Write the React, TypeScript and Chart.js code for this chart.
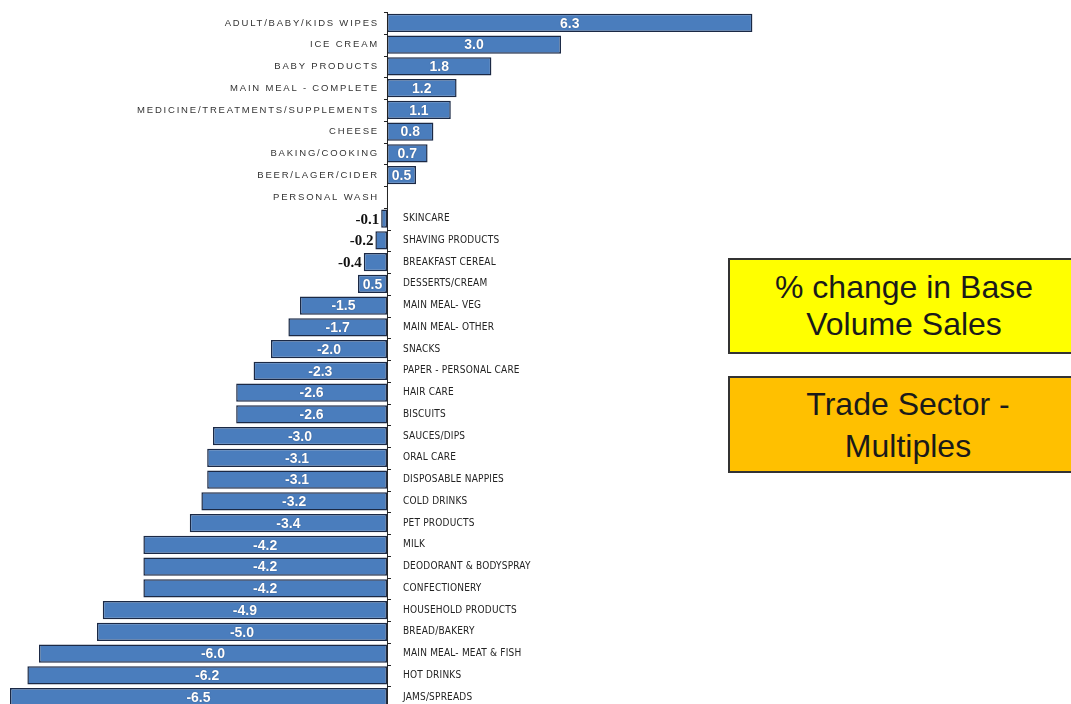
import React, { useEffect, useRef } from "react";
import { Chart, registerables } from "chart.js";

Chart.register(...registerables);

const categories: string[] = [
  "ADULT/BABY/KIDS WIPES",
  "ICE CREAM",
  "BABY PRODUCTS",
  "MAIN MEAL - COMPLETE",
  "MEDICINE/TREATMENTS/SUPPLEMENTS",
  "CHEESE",
  "BAKING/COOKING",
  "BEER/LAGER/CIDER",
  "PERSONAL WASH",
  "SKINCARE",
  "SHAVING PRODUCTS",
  "BREAKFAST CEREAL",
  "DESSERTS/CREAM",
  "MAIN MEAL- VEG",
  "MAIN MEAL- OTHER",
  "SNACKS",
  "PAPER - PERSONAL CARE",
  "HAIR CARE",
  "BISCUITS",
  "SAUCES/DIPS",
  "ORAL CARE",
  "DISPOSABLE NAPPIES",
  "COLD DRINKS",
  "PET PRODUCTS",
  "MILK",
  "DEODORANT & BODYSPRAY",
  "CONFECTIONERY",
  "HOUSEHOLD PRODUCTS",
  "BREAD/BAKERY",
  "MAIN MEAL- MEAT & FISH",
  "HOT DRINKS",
  "JAMS/SPREADS",
];

const values: number[] = [
  6.3, 3.0, 1.8, 1.2, 1.1, 0.8, 0.7, 0.5, 0, -0.1, -0.2, -0.4, -0.5, -1.5,
  -1.7, -2.0, -2.3, -2.6, -2.6, -3.0, -3.1, -3.1, -3.2, -3.4, -4.2, -4.2,
  -4.2, -4.9, -5.0, -6.0, -6.2, -6.5,
];

// value labels as printed on the picture
const valueLabels: string[] = [
  "6.3", "3.0", "1.8", "1.2", "1.1", "0.8", "0.7", "0.5", "", "-0.1", "-0.2",
  "-0.4", "0.5", "-1.5", "-1.7", "-2.0", "-2.3", "-2.6", "-2.6", "-3.0",
  "-3.1", "-3.1", "-3.2", "-3.4", "-4.2", "-4.2", "-4.2", "-4.9", "-5.0",
  "-6.0", "-6.2", "-6.5",
];

const titleLines: string[] = ["% change in Base", "Volume Sales"];
const sectorLines: string[] = ["Trade Sector -", "Multiples"];

const labelPlugin = {
  id: "customLabels",
  afterDatasetsDraw(chart: any) {
    const ctx = chart.ctx as CanvasRenderingContext2D;
    const xs = chart.scales.x;
    const ys = chart.scales.y;
    const area = chart.chartArea;
    const x0 = xs.getPixelForValue(0);
    const n = values.length;
    const rowH = (area.bottom - area.top) / n;
    ctx.save();
    // axis line
    ctx.strokeStyle = "#222";
    ctx.lineWidth = 1;
    ctx.beginPath();
    ctx.moveTo(x0 + 0.5, area.top);
    ctx.lineTo(x0 + 0.5, area.bottom);
    ctx.stroke();
    for (let i = 0; i <= n; i++) {
      const yb = Math.round(area.top + i * rowH) + 0.5;
      ctx.beginPath();
      if (i <= 9) {
        ctx.moveTo(x0 - 3, yb);
        ctx.lineTo(x0 + 0.5, yb);
      } else {
        ctx.moveTo(x0, yb);
        ctx.lineTo(x0 + 4, yb);
      }
      ctx.stroke();
    }
    for (let i = 0; i < n; i++) {
      const v = values[i];
      const y = ys.getPixelForValue(i);
      const xv = xs.getPixelForValue(v);
      // category label
      ctx.textBaseline = "middle";
      if (v >= 0) {
        ctx.font = "9.5px 'Liberation Sans', Arial, sans-serif";
        (ctx as any).letterSpacing = "1.8px";
        ctx.fillStyle = "#333";
        ctx.textAlign = "right";
        ctx.fillText(categories[i], x0 - 8, y);
      } else {
        ctx.font = "10px 'DejaVu Sans Condensed', 'DejaVu Sans', sans-serif";
        (ctx as any).letterSpacing = "0.2px";
        ctx.fillStyle = "#222";
        ctx.textAlign = "left";
        ctx.fillText(categories[i], x0 + 16, y);
      }
      (ctx as any).letterSpacing = "0px";
      const t = valueLabels[i];
      if (!t) continue;
      if (v < 0 && v > -0.45) {
        ctx.font = "bold 15px 'Liberation Serif', 'Times New Roman', serif";
        ctx.fillStyle = "#111";
        ctx.textAlign = "right";
        ctx.fillText(t, xv - 2, y + 1);
      } else {
        ctx.font = "bold 14px 'Liberation Sans', Arial, sans-serif";
        ctx.fillStyle = "#fff";
        ctx.textAlign = "center";
        ctx.shadowColor = "rgba(20,30,60,0.6)";
        ctx.shadowBlur = 1;
        ctx.fillText(t, (x0 + xv) / 2, y + 1);
        ctx.shadowColor = "transparent";
        ctx.shadowBlur = 0;
      }
    }
    ctx.restore();
  },
};

const boxText: React.CSSProperties = {
  fontFamily: "'Liberation Sans', Arial, sans-serif",
  fontSize: 32,
  color: "#1a1a1a",
  textAlign: "center",
};

export default function App() {
  const ref = useRef<HTMLCanvasElement>(null);
  useEffect(() => {
    if (!ref.current) return;
    const chart = new Chart(ref.current, {
      type: "bar",
      data: {
        labels: categories,
        datasets: [
          {
            data: values,
            backgroundColor: "#4a7dbd",
            borderColor: "#1b2945",
            borderWidth: 1.5,
            borderSkipped: false,
            barPercentage: 0.84,
            categoryPercentage: 1,
          } as any,
        ],
      },
      options: {
        indexAxis: "y",
        animation: false,
        responsive: false,
        maintainAspectRatio: false,
        layout: { padding: { top: 12, bottom: 0, left: 0, right: 0 } },
        scales: {
          x: { type: "linear", min: -6.672, max: 11.793, display: false },
          y: { type: "category", display: false, offset: true },
        },
        plugins: {
          legend: { display: false },
          tooltip: { enabled: false },
        },
      },
      plugins: [labelPlugin],
    });
    return () => chart.destroy();
  }, []);

  return (
    <div
      style={{
        position: "fixed",
        left: 0,
        top: 0,
        width: 1071,
        height: 704,
        overflow: "hidden",
        background: "#fff",
      }}
    >
      <canvas ref={ref} width={1071} height={708} style={{ display: "block" }} />
      <div
        style={{
          position: "absolute",
          left: 728,
          top: 258,
          width: 352,
          height: 96,
          boxSizing: "border-box",
          border: "2px solid #333",
          background: "#ffff00",
          display: "flex",
          flexDirection: "column",
          justifyContent: "center",
        }}
      >
        {titleLines.map((l) => (
          <div key={l} style={{ ...boxText, lineHeight: "37px" }}>
            {l}
          </div>
        ))}
      </div>
      <div
        style={{
          position: "absolute",
          left: 728,
          top: 376,
          width: 360,
          height: 97,
          boxSizing: "border-box",
          border: "2px solid #333",
          background: "#ffc000",
          display: "flex",
          flexDirection: "column",
          justifyContent: "center",
        }}
      >
        {sectorLines.map((l) => (
          <div key={l} style={{ ...boxText, lineHeight: "42px" }}>
            {l}
          </div>
        ))}
      </div>
    </div>
  );
}
